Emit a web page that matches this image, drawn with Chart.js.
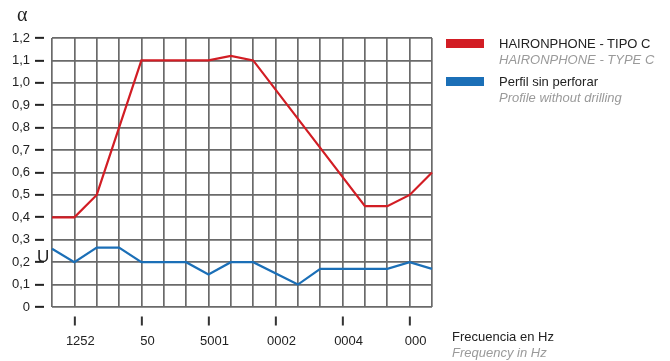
<!DOCTYPE html>
<meta charset="utf-8">
<style>
html, body {
  margin: 0;
  padding: 0;
  background: #fff;
}

.wrap {
  position: relative;
  width: 670px;
  height: 361px;
  font-family: "Liberation Sans", Arial, sans-serif;
  color: #222;
}

.wrap canvas {
  position: absolute;
  left: 0;
  top: 0;
}

.note {
  position: absolute;
  white-space: nowrap;
  line-height: 16px;
  font-size: 13px;
}

.note .en {
  color: #9a9a9a;
  font-style: italic;
}

.swatch {
  position: absolute;
  width: 38px;
  height: 9px;
}

.alpha {
  position: absolute;
  left: 17px;
  top: 3px;
  font-family: "Liberation Serif", serif;
  font-size: 20px;
}

.stray {
  position: absolute;
  left: 37px;
  top: 247px;
  font-size: 17px;
}
</style>
<body>

<div class="wrap">
  <canvas id="chart" width="670" height="361"></canvas>
  <div class="alpha">α</div>
  <div class="stray">U</div>

  <div class="swatch" style="left:446px; top:39px; background:#d21d24;"></div>
  <div class="note" style="left:499px; top:36px;">HAIRONPHONE - TIPO C<br><span class="en">HAIRONPHONE - TYPE C</span></div>

  <div class="swatch" style="left:446px; top:77px; background:#1b6fb7;"></div>
  <div class="note" style="left:499px; top:74px;">Perfil sin perforar<br><span class="en">Profile without drilling</span></div>

  <div class="note" style="left:452px; top:329px;">Frecuencia en Hz<br><span class="en">Frequency in Hz</span></div>
</div>

<script src="https://cdn.jsdelivr.net/npm/chart.js@4/dist/chart.umd.min.js"></script>
<script>
"use strict";

// one entry per vertical grid line, label only on the marked ones
var tickLabels = ["", "1252", "", "", "50", "", "", "5001", "", "", "0002", "", "", "0004", "", "", "000", ""];

// null = straight segment between the neighbours
var haironphone = [0.40, 0.40, 0.50, null, 1.10, 1.10, 1.10, 1.10, 1.12, 1.10, null, null, null, null, 0.45, 0.45, 0.50, 0.60];
var perfil      = [0.26, 0.20, 0.265, 0.265, 0.20, 0.20, 0.20, 0.145, 0.20, 0.20, null, 0.10, 0.17, 0.17, 0.17, 0.17, 0.20, 0.17];

var FONT = "'Liberation Sans', Arial, sans-serif";

var chart = new Chart(document.getElementById("chart"), {
  type: "line",
  data: {
    labels: tickLabels,
    datasets: [
      {
        label: "HAIRONPHONE - TIPO C",
        data: haironphone,
        borderColor: "#d21d24",
        borderWidth: 2.2,
        pointRadius: 0,
        spanGaps: true,
        tension: 0
      },
      {
        label: "Perfil sin perforar",
        data: perfil,
        borderColor: "#1b6fb7",
        borderWidth: 2.2,
        pointRadius: 0,
        spanGaps: true,
        tension: 0
      }
    ]
  },
  options: {
    responsive: false,
    animation: false,
    events: [],
    layout: {
      padding: { top: 38, right: 238, bottom: 0, left: 0 }
    },
    plugins: {
      legend: { display: false },
      tooltip: { enabled: false }
    },
    scales: {
      x: {
        type: "category",
        offset: false,
        afterFit: function (scale) { scale.height = 54; },
        border: { display: false },
        grid: {
          color: "#6a6a6a",
          lineWidth: 1.7,
          drawTicks: true,
          tickLength: 19,
          tickWidth: 2,
          tickColor: function (ctx) {
            return ctx.index % 3 === 1 ? "#333" : "rgba(0,0,0,0)";
          },
          tickBorderDash: [0, 9.5, 9, 100]
        },
        ticks: {
          autoSkip: false,
          maxRotation: 0,
          padding: 8,
          labelOffset: 6,
          color: "#222",
          font: { family: FONT, size: 13 },
          callback: function (value, index) { return tickLabels[index]; }
        }
      },
      y: {
        min: 0,
        max: 1.2,
        afterFit: function (scale) { scale.width = 52; },
        border: { display: false },
        grid: {
          color: "#6a6a6a",
          lineWidth: 1.7,
          drawTicks: true,
          tickLength: 17,
          tickWidth: 2,
          tickColor: "#222",
          tickBorderDash: [9, 100]
        },
        ticks: {
          stepSize: 0.1,
          padding: 5,
          color: "#222",
          font: { family: FONT, size: 13 },
          callback: function (value) {
            var v = Math.round(value * 10) / 10;
            return v === 0 ? "0" : v.toFixed(1).replace(".", ",");
          }
        }
      }
    }
  }
});
</script>
</body>
